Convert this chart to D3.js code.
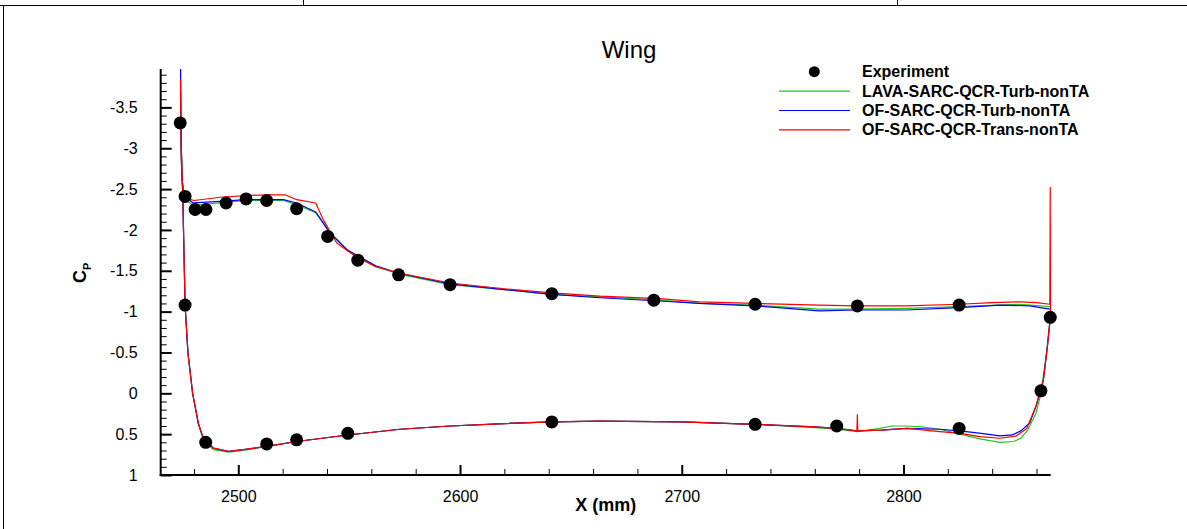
<!DOCTYPE html>
<html>
<head>
<meta charset="utf-8">
<script src="https://cdn.jsdelivr.net/npm/d3@7/dist/d3.min.js"></script>
<style>
  html, body { margin: 0; padding: 0; background: #fff; }
  svg { display: block; }
  text { font-family: "Liberation Sans", Arial, Helvetica, sans-serif; }
</style>
</head>
<body>
<svg id="chart" width="1187" height="529"></svg>
<script>
// ---------------- data ----------------
const title = "Wing";
const xLabel = "X (mm)";
const seriesNames = ["Experiment", "LAVA-SARC-QCR-Turb-nonTA", "OF-SARC-QCR-Turb-nonTA", "OF-SARC-QCR-Trans-nonTA"];
const seriesColors = ["#000000", "#1ec81e", "#0000ff", "#ff0000"];

const xTicksMajor = [2500, 2600, 2700, 2800];
const yTicksMajor = [-3.5, -3, -2.5, -2, -1.5, -1, -0.5, 0, 0.5, 1];

const expX  = [2473.8, 2476.0, 2480.5, 2485.4, 2494.5, 2503.5, 2512.8, 2526.3, 2540.3, 2553.9, 2572.3, 2595.5, 2641.4, 2687.4, 2733.1, 2779.2, 2825.1, 2866.2,
               2476.0, 2485.3, 2512.8, 2526.3, 2549.4, 2641.4, 2733.1, 2769.9, 2825.1, 2862.0];
const expCp = [-3.31, -2.41, -2.25, -2.25, -2.33, -2.38, -2.36, -2.26, -1.92, -1.63, -1.45, -1.33, -1.22, -1.14, -1.09, -1.07, -1.08, -0.93,
               -1.08, 0.60, 0.62, 0.57, 0.49, 0.35, 0.38, 0.40, 0.43, -0.03];

// upper surfaces (leading edge -> trailing edge): [X, Cp]
const lavaUpper = [[2473.9,-3.70],[2474.2,-2.95],[2474.6,-2.58],[2475.5,-2.42],[2476.7,-2.36],[2479.6,-2.30],[2491.7,-2.33],[2503.5,-2.36],[2520.3,-2.36],[2526.3,-2.31],[2534.9,-2.21],[2541.4,-1.97],[2545.9,-1.85],[2549,-1.75],[2553.4,-1.67],[2562,-1.55],[2572.4,-1.46],[2595.5,-1.33],[2620,-1.27],[2641.4,-1.21],[2663,-1.18],[2690,-1.14],[2708,-1.10],[2733,-1.08],[2762,-1.03],[2779,-1.03],[2801,-1.04],[2825,-1.06],[2852.5,-1.09],[2866,-1.06]];
const ofTurbUpper = [[2473.9,-4.20],[2474.2,-3.00],[2474.6,-2.62],[2475.5,-2.45],[2476.7,-2.39],[2479.6,-2.33],[2491.7,-2.35],[2503.5,-2.37],[2520.3,-2.37],[2526.3,-2.33],[2534.9,-2.22],[2541.4,-1.96],[2545.9,-1.84],[2549,-1.76],[2553.4,-1.69],[2562,-1.56],[2572.4,-1.47],[2595.5,-1.34],[2620,-1.27],[2641.4,-1.21],[2663,-1.17],[2690,-1.13],[2708,-1.10],[2733,-1.07],[2762,-1.01],[2779,-1.02],[2801,-1.02],[2825,-1.05],[2843.5,-1.08],[2857,-1.07],[2866,-1.03]];
const ofTransUpper = [[2473.9,-3.84],[2474.2,-2.98],[2474.6,-2.61],[2475.5,-2.46],[2477.3,-2.38],[2480,-2.36],[2491.7,-2.40],[2503,-2.42],[2512.8,-2.43],[2521.1,-2.43],[2526.3,-2.37],[2534.9,-2.33],[2538.4,-2.12],[2541.4,-1.98],[2544.4,-1.84],[2548.9,-1.75],[2553.4,-1.67],[2562,-1.55],[2572.9,-1.47],[2595.5,-1.35],[2620,-1.28],[2641.4,-1.23],[2663,-1.19],[2690,-1.16],[2708,-1.12],[2733,-1.10],[2762,-1.08],[2779,-1.07],[2801,-1.07],[2825,-1.09],[2840,-1.11],[2852.5,-1.12],[2860,-1.11],[2866,-1.09],[2866.2,-2.52],[2866.3,-0.95]];

// lower surfaces (leading edge -> trailing edge): [X, Cp]
const lavaLower = [[2473.9,-3.70],[2474.3,-3.00],[2475,-2.37],[2476,-1.08],[2477.3,-0.49],[2479.4,0.00],[2482,0.38],[2484.2,0.57],[2488.7,0.69],[2495.5,0.72],[2502.3,0.70],[2512.8,0.65],[2526.3,0.59],[2549.4,0.51],[2572.9,0.44],[2595.5,0.40],[2620,0.37],[2641.4,0.35],[2663,0.34],[2700,0.35],[2733,0.38],[2760,0.42],[2770,0.44],[2779,0.47],[2789.4,0.43],[2795,0.40],[2801.5,0.40],[2808,0.41],[2816.5,0.44],[2825.5,0.50],[2835,0.56],[2843.6,0.60],[2849.7,0.59],[2853,0.55],[2856,0.45],[2859.7,0.25],[2862,0.00],[2864.5,-0.50],[2866.3,-0.95]];
const ofTurbLower = [[2473.9,-4.20],[2474.3,-3.00],[2475,-2.37],[2476,-1.08],[2477.3,-0.49],[2479.4,0.00],[2482,0.37],[2484.2,0.55],[2488.7,0.67],[2495.5,0.71],[2502.3,0.69],[2512.8,0.65],[2526.3,0.59],[2549.4,0.51],[2572.9,0.44],[2595.5,0.40],[2620,0.37],[2641.4,0.35],[2663,0.34],[2700,0.35],[2733,0.38],[2760,0.41],[2770,0.43],[2779,0.46],[2790,0.45],[2801.5,0.43],[2816,0.44],[2825.5,0.46],[2835,0.49],[2843.5,0.52],[2849,0.51],[2853,0.46],[2857,0.36],[2860,0.14],[2863.1,-0.16],[2864.9,-0.57],[2866.3,-0.93]];
const ofTransLower = [[2473.9,-3.84],[2474.3,-3.00],[2475,-2.37],[2476,-1.08],[2477.3,-0.49],[2479.4,0.00],[2482,0.37],[2484.2,0.55],[2488.7,0.67],[2495.5,0.71],[2502.3,0.69],[2512.8,0.65],[2526.3,0.59],[2549.4,0.51],[2572.9,0.44],[2595.5,0.40],[2620,0.37],[2641.4,0.35],[2663,0.34],[2700,0.35],[2733,0.38],[2760,0.41],[2770,0.43],[2779,0.46],[2779.2,0.26],[2779.4,0.46],[2790,0.45],[2801.5,0.43],[2816.5,0.47],[2825.5,0.49],[2834.5,0.53],[2843.5,0.55],[2851,0.52],[2855.6,0.43],[2859.7,0.16],[2863.1,-0.16],[2864.9,-0.57],[2866.3,-0.95]];

// ---------------- layout ----------------
const svg = d3.select("#chart");
const W = 1187, H = 529;
const plot = { left: 160.7, right: 1050.7, top: 69, bottom: 475 };

const x = d3.scaleLinear().domain([2465, 2866.4]).range([plot.left, plot.right]);
const y = d3.scaleLinear().domain([-3.97, 1]).range([plot.top, plot.bottom]);

// frame around picture
const frame = svg.append("g").attr("stroke", "#000").attr("stroke-width", 1).attr("fill", "none");
frame.append("line").attr("x1", 0).attr("x2", W).attr("y1", 5.5).attr("y2", 5.5);
frame.append("line").attr("x1", 3.5).attr("x2", 3.5).attr("y1", 5.5).attr("y2", H);
frame.append("line").attr("x1", 303.5).attr("x2", 303.5).attr("y1", 0).attr("y2", 5.5);
frame.append("line").attr("x1", 897.5).attr("x2", 897.5).attr("y1", 0).attr("y2", 5.5);

// clip
svg.append("defs").append("clipPath").attr("id", "clip")
  .append("rect").attr("x", plot.left).attr("y", plot.top)
  .attr("width", plot.right - plot.left + 2).attr("height", plot.bottom - plot.top);

// axes
const xMinor = d3.range(2480, 2861, 20).filter(v => !xTicksMajor.includes(v));
const yMinor = d3.range(-39, 11, 1).map(v => v / 10).filter(v => v >= -3.97 && !yTicksMajor.some(m => Math.abs(m - v) < 1e-9));

const xAxisMajor = d3.axisBottom(x).tickValues(xTicksMajor).tickSize(-10).tickPadding(16).tickFormat(d3.format("d"));
const xAxisMinor = d3.axisBottom(x).tickValues(xMinor).tickSize(-6).tickFormat("");
const yAxisMajor = d3.axisLeft(y).tickValues(yTicksMajor).tickSize(-11).tickPadding(23).tickFormat(d => String(d));
const yAxisMinor = d3.axisLeft(y).tickValues(yMinor).tickSize(-6).tickFormat("");

function styleAxis(g, w) {
  g.select(".domain").remove();
  g.selectAll(".tick line").attr("stroke", "#000").attr("stroke-width", w);
  g.selectAll(".tick text").attr("fill", "#000").attr("font-size", 16)
    .attr("font-family", '"Liberation Sans", Arial, Helvetica, sans-serif');
}

svg.append("g").attr("transform", `translate(0,${plot.bottom})`).call(xAxisMinor).call(g => styleAxis(g, 1));
svg.append("g").attr("transform", `translate(0,${plot.bottom})`).call(xAxisMajor).call(g => styleAxis(g, 2));
svg.append("g").attr("transform", `translate(${plot.left},0)`).call(yAxisMinor).call(g => styleAxis(g, 1));
svg.append("g").attr("transform", `translate(${plot.left},0)`).call(yAxisMajor).call(g => styleAxis(g, 2));

// axis lines
svg.append("line").attr("x1", plot.left).attr("x2", plot.left).attr("y1", plot.top).attr("y2", plot.bottom + 1)
  .attr("stroke", "#000").attr("stroke-width", 2);
svg.append("line").attr("x1", plot.left - 1).attr("x2", plot.right).attr("y1", plot.bottom).attr("y2", plot.bottom)
  .attr("stroke", "#000").attr("stroke-width", 2);

// curves
const line = d3.line().x(d => x(d[0])).y(d => y(d[1]));
const curves = [
  { upper: lavaUpper, lower: lavaLower, color: seriesColors[1] },
  { upper: ofTurbUpper, lower: ofTurbLower, color: seriesColors[2] },
  { upper: ofTransUpper, lower: ofTransLower, color: seriesColors[3] }
];
const cg = svg.append("g").attr("clip-path", "url(#clip)");
curves.forEach(c => {
  const pts = c.lower.slice().reverse().concat(c.upper.slice(1));
  cg.append("path").attr("d", line(pts)).attr("fill", "none")
    .attr("stroke", c.color).attr("stroke-width", 1.2).attr("stroke-linejoin", "round");
});

// experiment markers
svg.append("g").selectAll("circle").data(expX.map((v, i) => [v, expCp[i]])).join("circle")
  .attr("cx", d => x(d[0])).attr("cy", d => y(d[1])).attr("r", 6.5).attr("fill", "#000");

// title and labels
svg.append("text").attr("x", 629).attr("y", 58).attr("text-anchor", "middle")
  .attr("font-size", 24).attr("fill", "#000").text(title);
svg.append("text").attr("x", 605.7).attr("y", 511).attr("text-anchor", "middle")
  .attr("font-size", 18).attr("font-weight", "bold").attr("fill", "#000").text(xLabel);
const yl = svg.append("text").attr("transform", "translate(86,283) rotate(-90)")
  .attr("font-size", 18).attr("font-weight", "bold").attr("fill", "#000");
yl.append("tspan").text("C");
yl.append("tspan").attr("font-size", 11).attr("dy", 5).text("P");

// legend
const lg = svg.append("g");
const legX = 862, legY0 = 71.7, legDy = 19.4;
seriesNames.forEach((name, i) => {
  const yy = legY0 + i * legDy;
  if (i === 0) {
    lg.append("circle").attr("cx", 814.3).attr("cy", yy).attr("r", 5.5).attr("fill", "#000");
  } else {
    lg.append("line").attr("x1", 779).attr("x2", 850).attr("y1", yy).attr("y2", yy)
      .attr("stroke", seriesColors[i]).attr("stroke-width", 1.2);
  }
  lg.append("text").attr("x", legX).attr("y", yy + 5.5).attr("font-size", 16).attr("font-weight", "bold")
    .attr("fill", "#000").text(name);
});
</script>
</body>
</html>
